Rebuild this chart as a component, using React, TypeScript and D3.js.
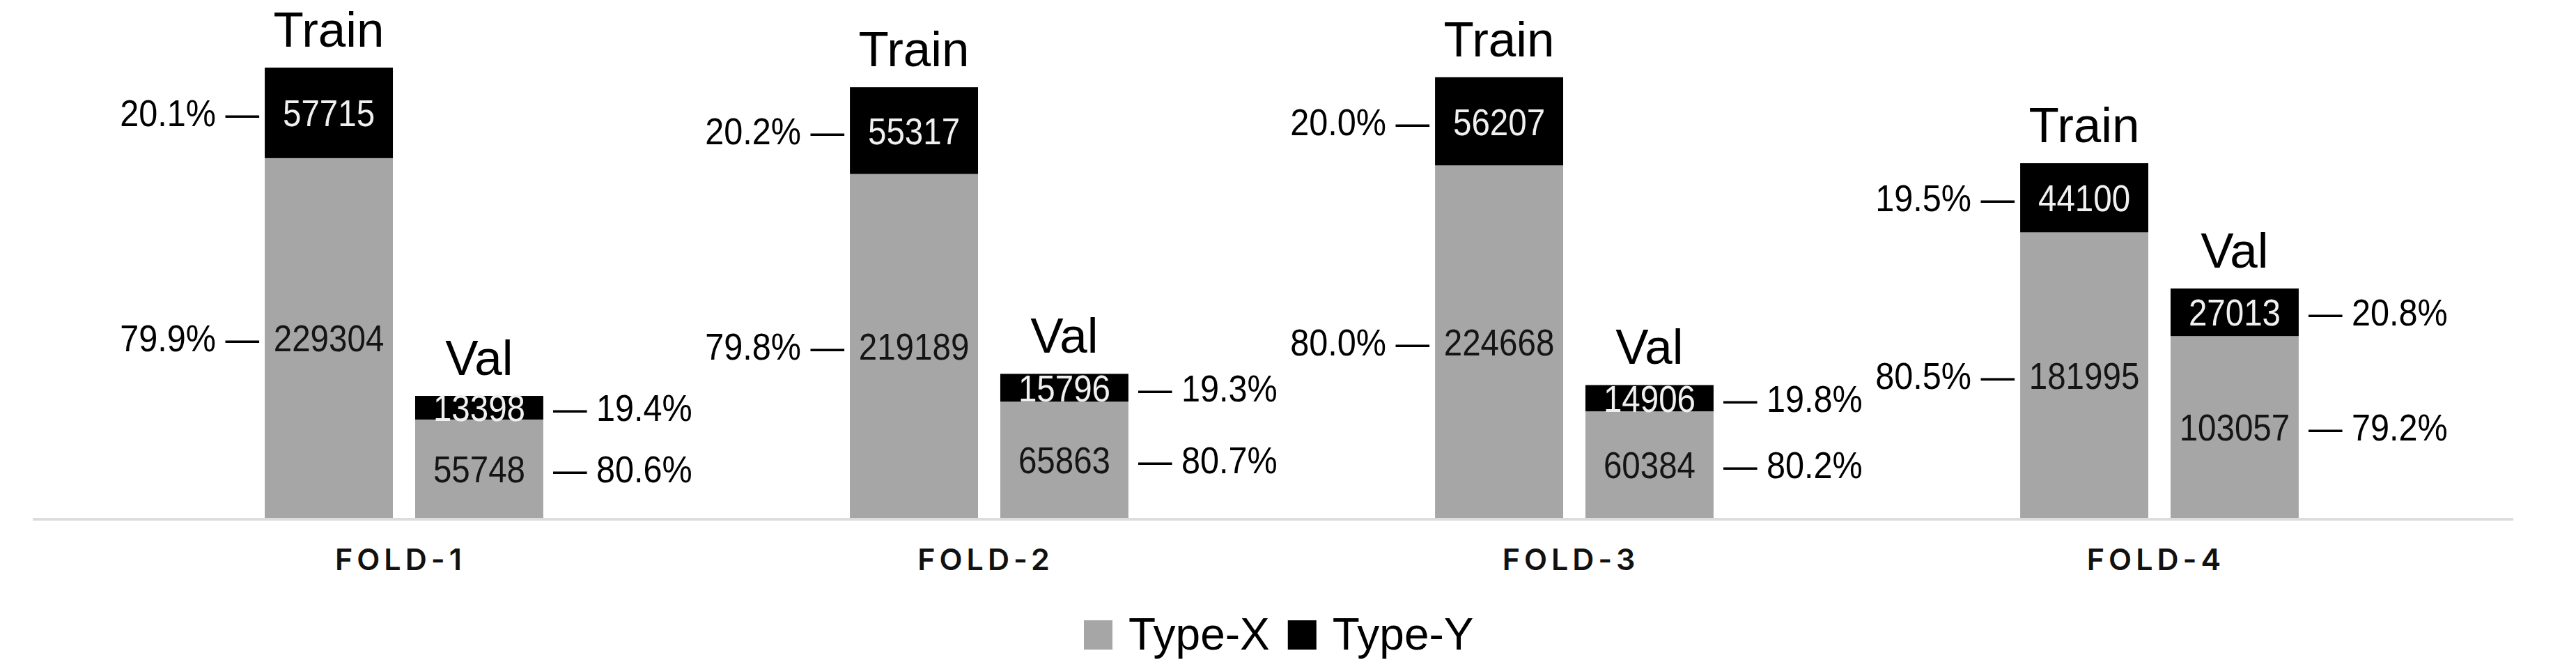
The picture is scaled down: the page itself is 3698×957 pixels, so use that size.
import { useEffect, useRef } from 'react'
import * as d3 from 'd3'

const folds = ['FOLD-1', 'FOLD-2', 'FOLD-3', 'FOLD-4']
const trainX = [229304, 219189, 224668, 181995]
const trainY = [57715, 55317, 56207, 44100]
const valX = [55748, 65863, 60384, 103057]
const valY = [13398, 15796, 14906, 27013]
const legendLabels = ['Type-X', 'Type-Y']

const W = 3698
const H = 957
const GRAY = '#a6a6a6'
const BLACK = '#000000'
const SANS = '"Liberation Sans", Arial, sans-serif'

export default function App() {
  const svgRef = useRef<SVGSVGElement | null>(null)

  useEffect(() => {
    if (!svgRef.current) return
    const svg = d3.select(svgRef.current)
    svg.selectAll('*').remove()

    const baseY = 743

    const x0 = d3.scaleBand<string>()
      .domain(folds)
      .range([160, 3520])
      .paddingInner(0.524)
      .paddingOuter(0.262)

    const x1 = d3.scaleBand<string>()
      .domain(['Train', 'Val'])
      .range([0, x0.bandwidth()])
      .paddingInner(0.148)

    // the original drew the val bars a little taller than the train bars
    const yTrain = d3.scaleLinear().domain([0, 287019]).range([baseY, 97])
    const yVal = d3.scaleLinear().domain([0, 255300]).range([baseY, 97])

    const pct = d3.format('.1%')

    // axis line
    svg.append('line')
      .attr('x1', 47).attr('x2', 3608)
      .attr('y1', baseY + 2).attr('y2', baseY + 2)
      .attr('stroke', '#dcdcdc')
      .attr('stroke-width', 4)

    folds.forEach((fold, i) => {
      const groups = [
        { key: 'Train', x: trainX[i], y: trainY[i], scale: yTrain },
        { key: 'Val', x: valX[i], y: valY[i], scale: yVal },
      ]
      groups.forEach(g => {
        const left = (x0(fold) || 0) + (x1(g.key) || 0)
        const bw = x1.bandwidth()
        const total = g.x + g.y
        const segs = [
          { v0: 0, v1: g.x, color: GRAY, text: '#151515', share: g.x / total },
          { v0: g.x, v1: total, color: BLACK, text: '#f0f0f0', share: g.y / total },
        ]
        segs.forEach(s => {
          const yTop = g.scale(s.v1)
          const yBot = g.scale(s.v0)
          const cy = (yTop + yBot) / 2
          svg.append('rect')
            .attr('x', left).attr('y', yTop)
            .attr('width', bw).attr('height', yBot - yTop)
            .attr('fill', s.color)
          svg.append('text')
            .attr('transform', `translate(${left + bw / 2},${cy}) scale(0.88,1)`)
            .attr('dy', '0.36em')
            .attr('text-anchor', 'middle')
            .attr('font-family', SANS)
            .attr('font-size', 54)
            .attr('fill', s.text)
            .text(s.v1 - s.v0)
          const isTrain = g.key === 'Train'
          const px = isTrain ? left - 8 : left + bw + 14
          svg.append('text')
            .attr('transform', `translate(${px},${cy}) scale(0.9,1)`)
            .attr('dy', '0.36em')
            .attr('text-anchor', isTrain ? 'end' : 'start')
            .attr('font-family', SANS)
            .attr('font-size', 54)
            .attr('fill', '#000')
            .text(isTrain ? `${pct(s.share)} \u2014` : `\u2014 ${pct(s.share)}`)
        })
        svg.append('text')
          .attr('x', left + bw / 2)
          .attr('y', g.scale(total) - 30)
          .attr('text-anchor', 'middle')
          .attr('font-family', SANS)
          .attr('font-size', 71)
          .attr('fill', '#000')
          .text(g.key)
      })

      svg.append('text')
        .attr('x', (x0(fold) || 0) + x0.bandwidth() / 2 - 5)
        .attr('y', 818)
        .attr('text-anchor', 'middle')
        .attr('font-family', 'Inter, "Liberation Sans", sans-serif')
        .attr('font-weight', 600)
        .attr('font-size', 43)
        .attr('letter-spacing', 6)
        .attr('fill', '#111')
        .text(fold)
    })

    // legend
    const legend = svg.append('g').attr('transform', 'translate(1556,0)')
    const legendColors = [GRAY, BLACK]
    let lx = 0
    legendLabels.forEach((lab, i) => {
      legend.append('rect')
        .attr('x', lx).attr('y', 890)
        .attr('width', 41).attr('height', 42)
        .attr('fill', legendColors[i])
      const t = legend.append('text')
        .attr('x', lx + 64).attr('y', 932)
        .attr('font-family', SANS)
        .attr('font-size', 64)
        .attr('fill', '#000')
        .text(lab)
      const w = (t.node() as SVGTextElement).getComputedTextLength()
      lx += 64 + w + 26
    })
  }, [])

  return (
    <div style={{ position: 'absolute', left: 0, top: 0, background: '#fff' }}>
      <svg ref={svgRef} width={W} height={H} viewBox={`0 0 ${W} ${H}`} />
    </div>
  )
}
